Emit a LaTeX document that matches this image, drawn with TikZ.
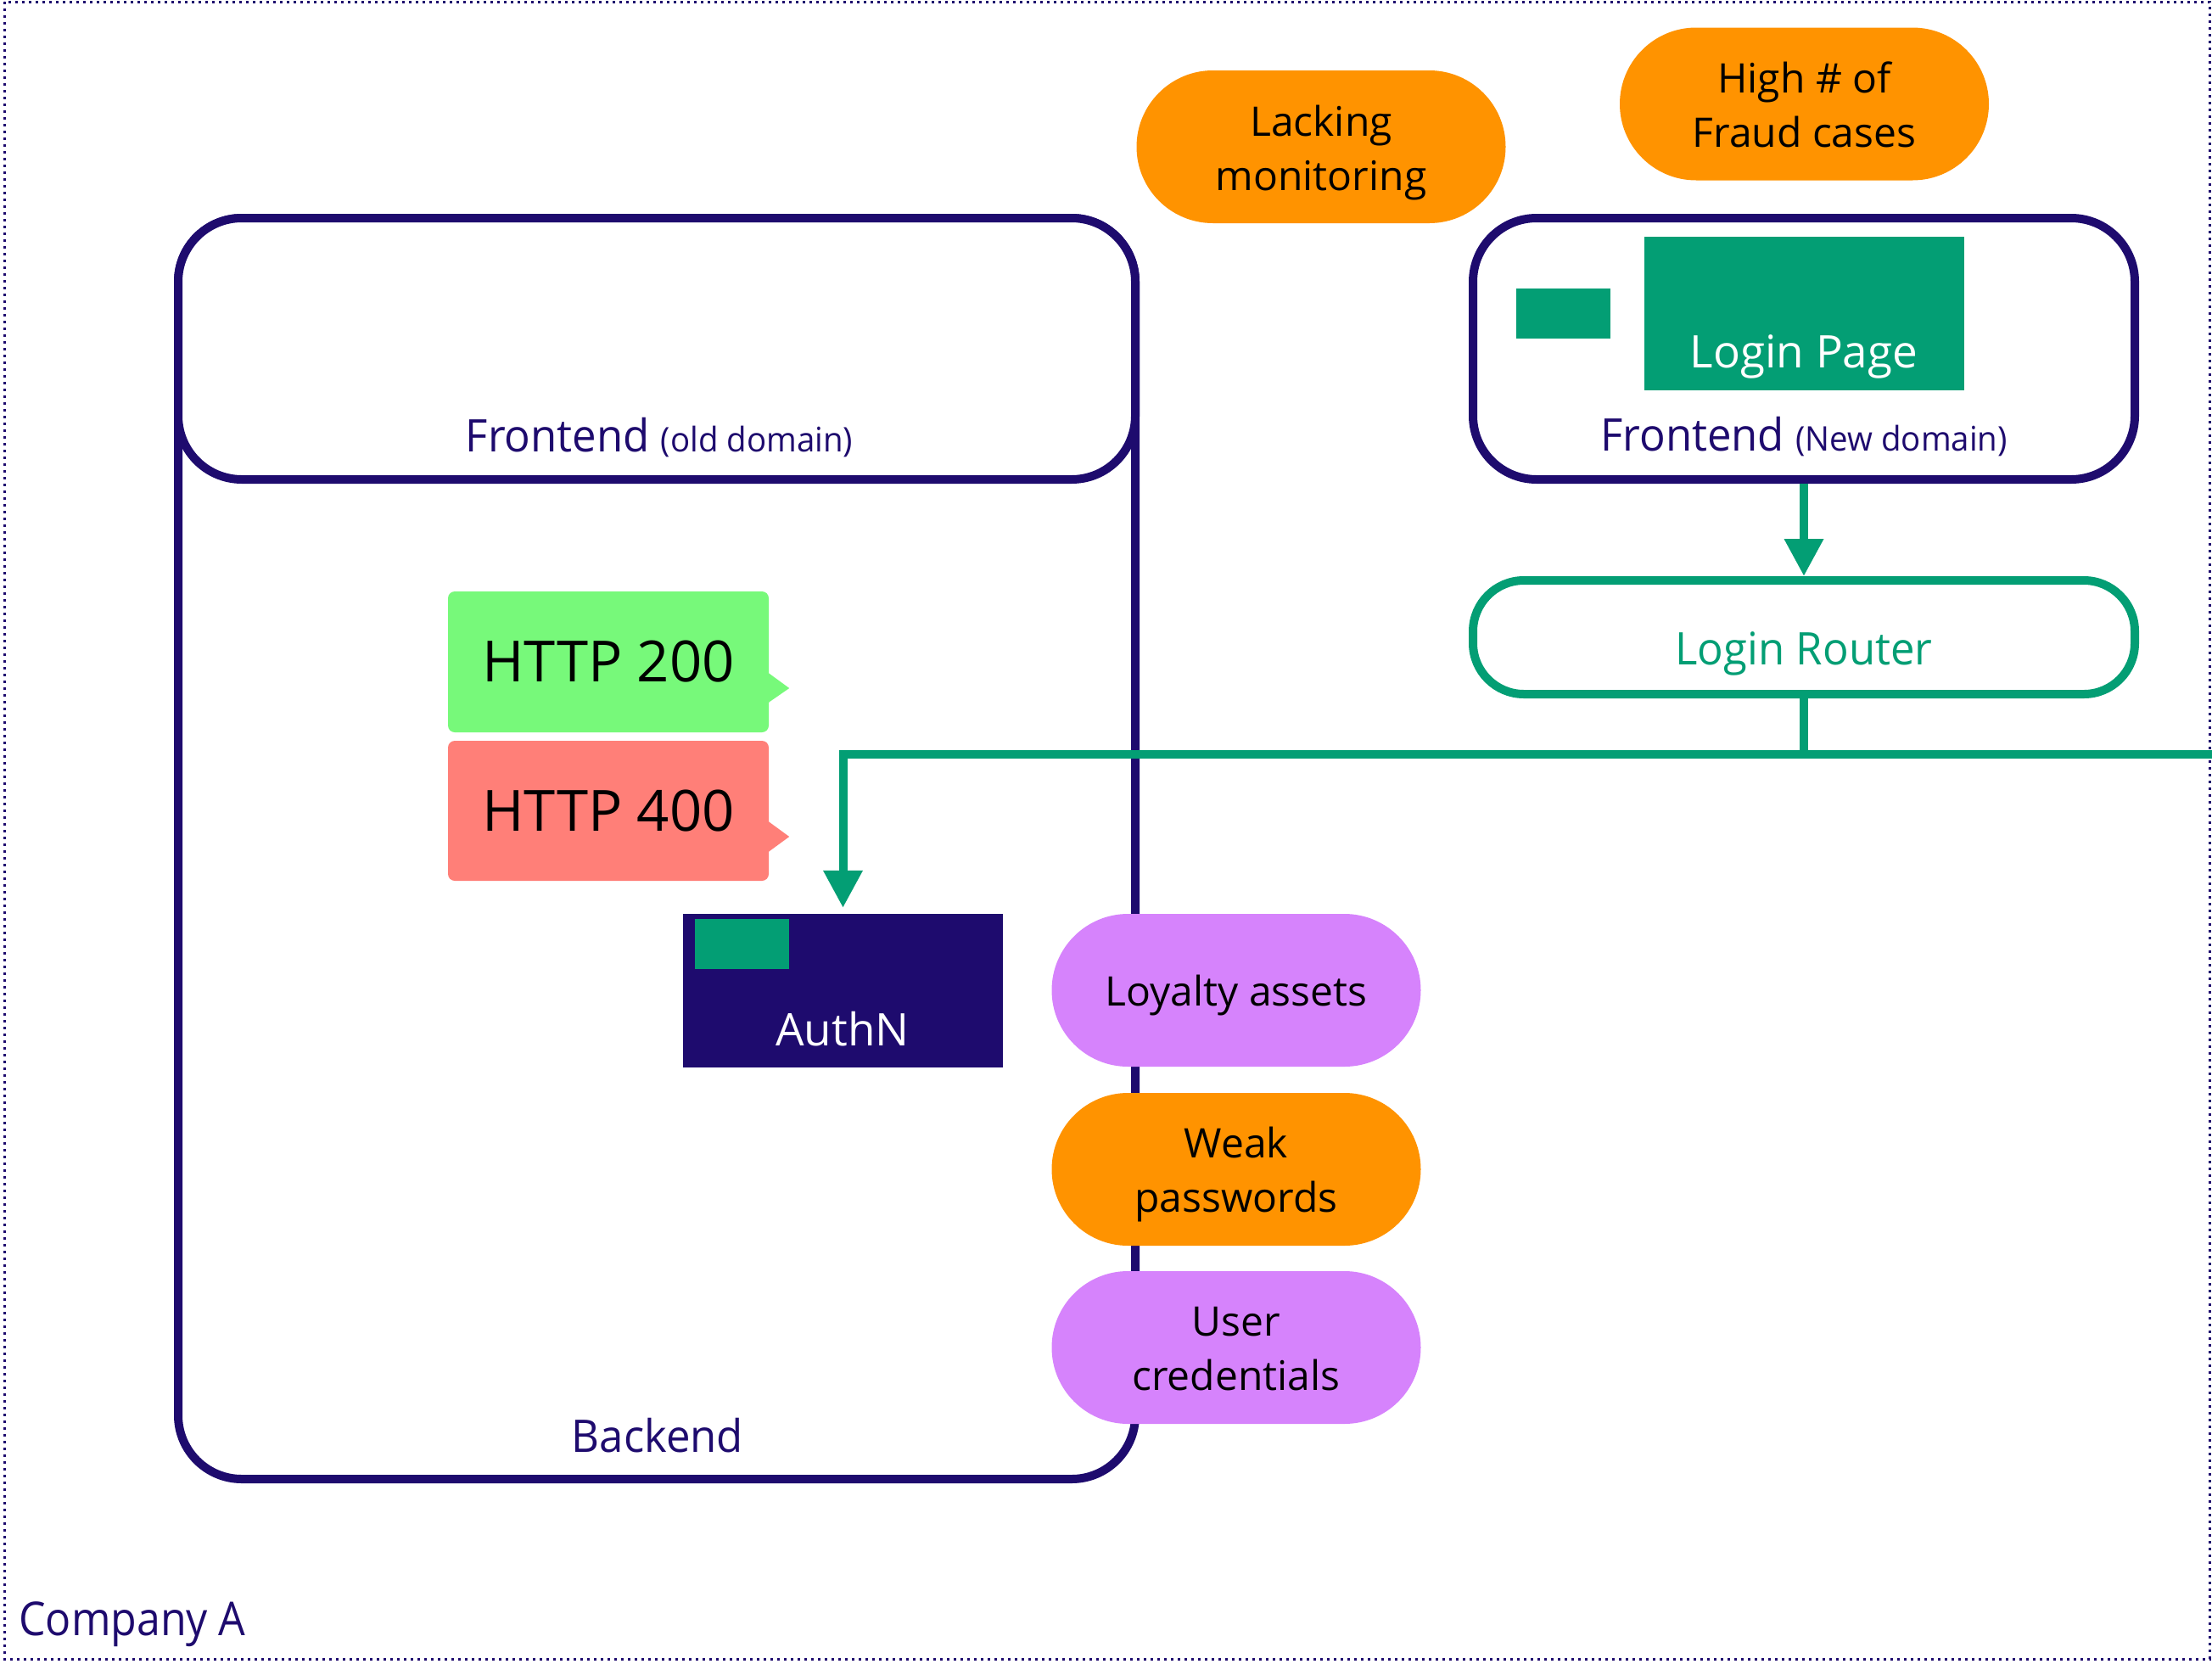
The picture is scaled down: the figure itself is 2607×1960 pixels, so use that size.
\documentclass[tikz,border=0pt]{standalone}
\usepackage{fontspec}
\setmainfont{Open Sans}
\newfontfamily\narrowfont[FakeStretch=0.96]{Open Sans}
\newfontfamily\narrowerfont[FakeStretch=0.91]{Open Sans}
\usetikzlibrary{arrows.meta,calc}
\definecolor{navy}{RGB}{30,11,110}
\definecolor{teal}{RGB}{3,158,116}
\definecolor{orng}{RGB}{255,147,0}
\definecolor{violet}{RGB}{214,131,252}
\definecolor{lgreen}{RGB}{119,249,122}
\definecolor{salmon}{RGB}{255,127,120}
\begin{document}
\begin{tikzpicture}[x=1pt,y=-1pt,
  navybox/.style={draw=navy, line width=10pt, fill=white, rounded corners=75pt, inner sep=0pt},
  tag/.style={rounded corners=90pt, minimum width=435pt, minimum height=180pt, inner sep=0pt},
  tagtext/.style={inner sep=0pt, align=center, text=black, font=\fontsize{48}{64}\selectfont},
  plain/.style={inner sep=0pt},
  httpbox/.style={rounded corners=8pt, minimum width=378pt, minimum height=166pt, inner sep=0pt, text=black, font=\fontsize{67}{80}\selectfont},
  lbl/.style={inner sep=0pt, text=navy, font=\narrowfont\fontsize{53}{64}\selectfont},
  gline/.style={draw=teal, line width=10pt},
  garrow/.style={draw=teal, line width=10pt, -{Triangle[length=44pt,width=44pt]}}
]
\useasboundingbox (0,0) rectangle (2607,1960);
% outer dotted frame
\draw[navy, line width=3pt, dash pattern=on 3pt off 5pt] (5,2) rectangle (2604,1955);
\node[lbl, anchor=base west, font=\narrowerfont\fontsize{55}{66}\selectfont] (company) at (22,1927) {Company A};

% Backend and frontend (old domain)
\node[navybox, minimum width=1128pt, minimum height=1486pt] (backend) at (774,1000) {};
\node[navybox, minimum width=1128pt, minimum height=308pt] (feold) at (774,411) {};
\node[lbl, anchor=base] (feoldlbl) at (777,532) {Frontend {\fontsize{40}{48}\selectfont (old domain)}};
\node[lbl, anchor=base] (backendlbl) at (775,1711) {Backend};

% HTTP callouts
\node[httpbox, fill=lgreen] (h200) at (717,780) {HTTP 200};
\fill[lgreen] ($(h200.east)+(-2,12)$) -- ($(h200.east)+(24,31)$) -- ($(h200.east)+(-2,49)$) -- cycle;
\node[httpbox, fill=salmon, minimum height=165pt] (h400) at (717,955.5) {HTTP 400};
\fill[salmon] ($(h400.east)+(-2,11.5)$) -- ($(h400.east)+(24,30.5)$) -- ($(h400.east)+(-2,49.5)$) -- cycle;

% AuthN
\node[plain, fill=navy, minimum width=377pt, minimum height=181pt] (authn) at (993.5,1167.5) {};
\node[plain, fill=teal, minimum width=111pt, minimum height=59pt] (authnicon) at (874.5,1112.5) {};
\node[lbl, anchor=base, text=white, font=\fontsize{53}{64}\selectfont] (authnlbl) at (993,1232) {AuthN};

% Frontend (new domain)
\node[navybox, minimum width=780pt, minimum height=308pt] (fenew) at (2126,411) {};
\node[plain, fill=teal, minimum width=377pt, minimum height=181pt] (loginpage) at (2126.5,369.5) {};
\node[plain, fill=teal, minimum width=111pt, minimum height=59pt] (loginicon) at (1842.5,369.5) {};
\node[lbl, anchor=base, text=white, font=\fontsize{53}{62}\selectfont] (loginpagelbl) at (2126,433) {Login Page};
\node[lbl, anchor=base] (fenewlbl) at (2126,531) {Frontend {\fontsize{40}{48}\selectfont (New domain)}};

% Login router
\node[draw=teal, line width=10pt, fill=white, rounded corners=60pt, minimum width=780pt, minimum height=134pt, inner sep=0pt] (router) at (2126,751) {};
\node[lbl, anchor=base, text=teal] (routerlbl) at (2126,783) {Login Router};

% connectors
\coordinate (bus) at (2607,889);
\draw[garrow] (fenew.south) -- (router.north);
\draw[gline] (router.south) -- (router.south |- bus);
\draw[garrow, shorten >=7pt] (bus) -| (authn.north);

% tags
\node[tag, fill=orng] (lack) at (1557,173) {};
\node[tagtext] (lacktxt) at ($(lack)+(0,7)$) {Lacking\\monitoring};
\node[tag, fill=orng] (fraud) at (2126.5,122.5) {};
\node[tagtext] (fraudtxt) at ($(fraud)+(0,1)$) {High \# of\\Fraud cases};
\node[tag, fill=violet] (loyal) at (1457,1167) {};
\node[tagtext] (loyaltxt) at ($(loyal)+(0,6)$) {Loyalty assets};
\node[tag, fill=orng] (weak) at (1457,1378) {};
\node[tagtext] (weaktxt) at ($(weak)+(0,6)$) {Weak\\passwords};
\node[tag, fill=violet] (cred) at (1457,1588) {};
\node[tagtext] (credtxt) at ($(cred)+(0,2)$) {User\\credentials};
\end{tikzpicture}
\end{document}
